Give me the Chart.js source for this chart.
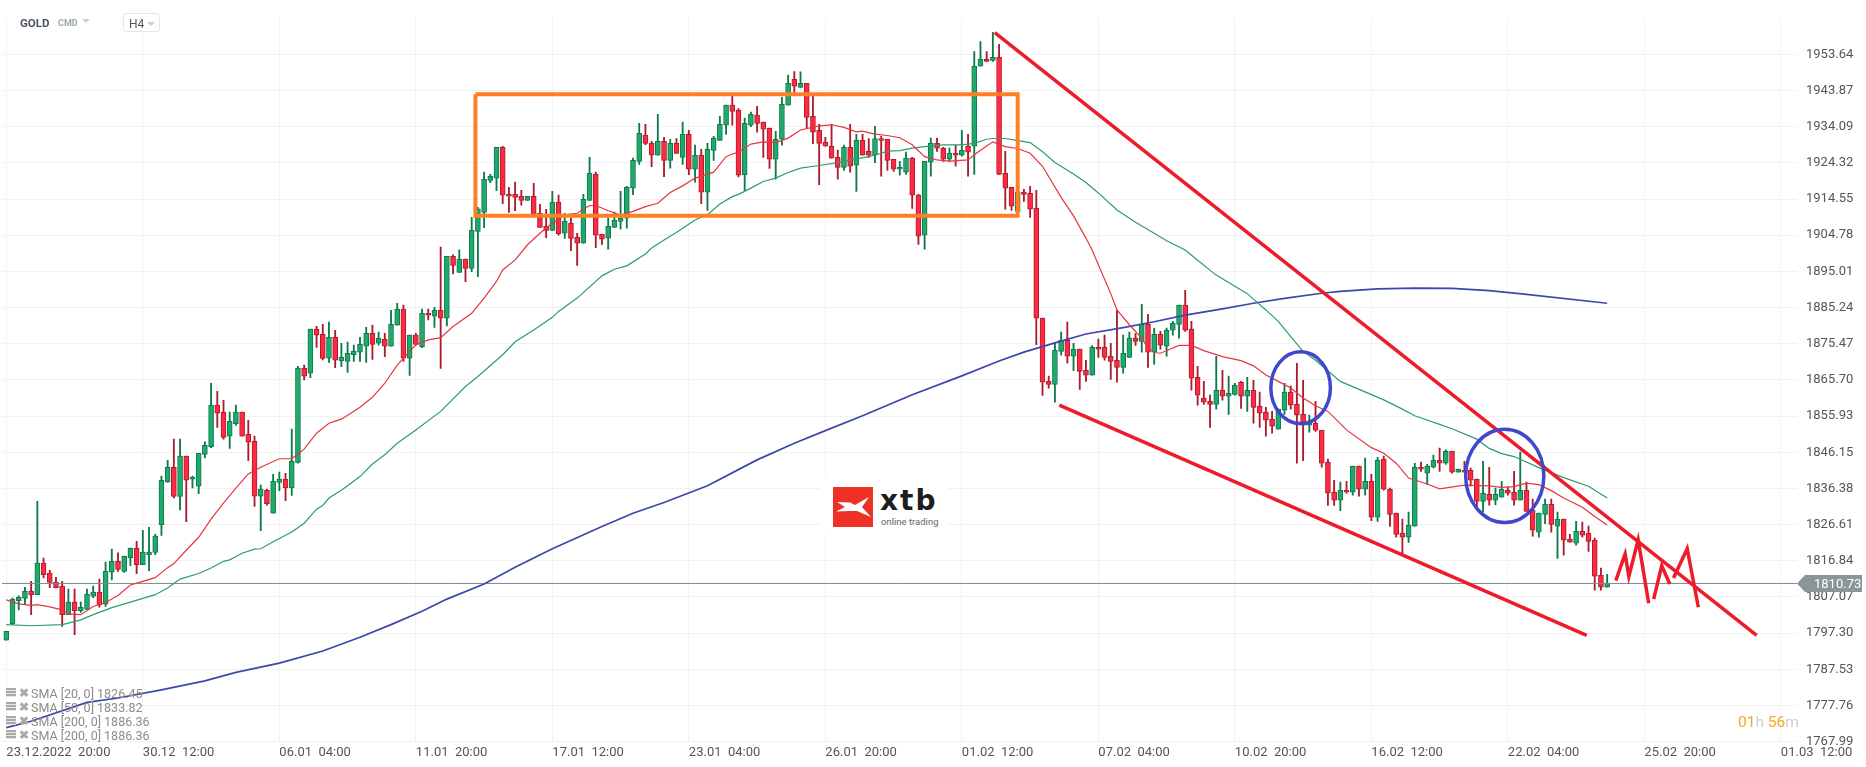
<!DOCTYPE html>
<html>
<head>
<meta charset="utf-8">
<title>GOLD H4</title>
<script src="https://cdn.jsdelivr.net/npm/chart.js@4"></script>
<style>
  html, body { margin: 0; padding: 0; background: #fff; overflow: hidden; }
  #wrap { position: relative; width: 1866px; height: 767px; font-family: Roboto, sans-serif; }
  #myChart { position: absolute; left: 0; top: 0; }
  .hud { position: absolute; white-space: nowrap; }
  .caret { position: absolute; width: 0; height: 0; border-left: 4.5px solid transparent; border-right: 4.5px solid transparent; border-top: 4px solid #cfcfcf; }
  .row { position: absolute; left: 6px; height: 14px; font-size: 12.5px; line-height: 14px; color: #8c8c8c; white-space: nowrap; }
  .row i { position: absolute; left: 0; top: 1px; width: 10px; height: 9px; background: repeating-linear-gradient(#a8a8a8 0 2px, #e8e8e8 2px 3px); }
  .row b { position: absolute; left: 13px; top: -1px; font-weight: 700; font-size: 12px; color: #ababab; }
  .row span { position: absolute; left: 25px; }
</style>
</head>
<body>
<div id="wrap">
  <canvas id="myChart" width="1866" height="767"></canvas>

  <div class="hud" style="left:20px;top:16px;font-size:11.5px;font-weight:700;line-height:14px;color:#4a5560;">GOLD</div>
  <div class="hud" style="left:58px;top:17px;font-size:9px;font-weight:700;line-height:13px;color:#9aa5ad;">CMD</div>
  <div class="caret" style="left:82px;top:19px;"></div>
  <div class="hud" style="left:123px;top:13px;width:35px;height:17px;border:1px solid #e6e6e6;border-radius:3px;background:#fff;"></div>
  <div class="hud" style="left:129px;top:17px;font-size:12px;line-height:14px;color:#555;">H4</div>
  <div class="caret" style="left:147px;top:22px;"></div>

  <div class="row" style="top:687px;"><i></i><b>✖</b><span>SMA [20, 0] 1826.45</span></div>
  <div class="row" style="top:701px;"><i></i><b>✖</b><span>SMA [50, 0] 1833.82</span></div>
  <div class="row" style="top:715px;"><i></i><b>✖</b><span>SMA [200, 0] 1886.36</span></div>
  <div class="row" style="top:729px;"><i></i><b>✖</b><span>SMA [200, 0] 1886.36</span></div>

  <div class="hud" style="left:820px;top:478px;width:128px;height:57px;background:#fff;"></div>
  <svg class="hud" style="left:833px;top:487px;" width="40" height="40" viewBox="0 0 40 40">
    <rect width="40" height="40" fill="#ee3124"/>
    <polygon fill="#fff" points="4,15 17,15.5 22,18 36,10 29,20 38,30 24,24 17,24 3,24.5 12,20"/>
  </svg>
  <div class="hud" style="left:880px;top:486px;font-family:'DejaVu Sans';font-weight:700;font-size:28px;letter-spacing:2px;line-height:30px;color:#1d1d1b;">xtb</div>
  <div class="hud" style="left:881px;top:515px;font-size:9.5px;line-height:13px;color:#666;">online trading</div>

  <div class="hud" style="left:1738px;top:713px;font-size:15.5px;line-height:18px;color:#f5a623;">01<span style="color:#cfcfcf">h</span> 56<span style="color:#cfcfcf">m</span></div>
</div>

<script>
const currentPrice = 1810.73;

const yTicks = [1953.64, 1943.87, 1934.09, 1924.32, 1914.55, 1904.78, 1895.01, 1885.24, 1875.47, 1865.70,
  1855.93, 1846.15, 1836.38, 1826.61, 1816.84, 1807.07, 1797.30, 1787.53, 1777.76, 1767.99];

const xTickCandles = [0, 22, 44, 66, 88, 110, 132, 154, 176, 198, 220, 242, 264, 286];
const xTickLabels = ['23.12.2022\u00a0\u00a020:00', '30.12\u00a0\u00a012:00', '06.01\u00a0\u00a004:00', '11.01\u00a0\u00a020:00',
  '17.01\u00a0\u00a012:00', '23.01\u00a0\u00a004:00', '26.01\u00a0\u00a020:00', '01.02\u00a0\u00a012:00', '07.02\u00a0\u00a004:00',
  '10.02\u00a0\u00a020:00', '16.02\u00a0\u00a012:00', '22.02\u00a0\u00a004:00', '25.02\u00a0\u00a020:00', '01.03\u00a0\u00a012:00'];

const opens = [
  1795.4,1799.9,1806.1,1806.7,1808.6,1807.7,1816.2,1813.5,1811.1,1810.0,
  1802.3,1805.7,1803.4,1803.7,1807.3,1808.4,1805.1,1813.8,1816.7,1814.0,
  1817.7,1820.3,1815.8,1818.5,1819.1,1826.6,1838.2,1842.1,1834.2,1845.1,
  1838.9,1837.0,1845.6,1847.7,1858.9,1857.0,1850.5,1853.9,1857.0,1851.0,
  1849.1,1834.3,1835.9,1829.7,1838.0,1838.9,1836.5,1843.4,1868.9,1867.5,
  1879.4,1878.0,1871.6,1877.2,1870.9,1870.7,1872.5,1873.2,1874.8,1878.3,
  1875.6,1876.7,1874.8,1880.5,1884.8,1871.6,1877.8,1874.7,1883.7,1882.9,
  1884.5,1882.4,1899.1,1894.7,1898.3,1895.8,1905.8,1910.9,1919.6,1920.2,
  1928.5,1915.8,1915.8,1915.3,1914.2,1915.3,1910.7,1907.2,1906.1,1913.7,
  1905.3,1908.0,1904.2,1902.6,1914.2,1921.2,1905.0,1904.0,1906.9,1908.5,
  1909.4,1917.5,1924.7,1931.8,1929.6,1926.4,1930.1,1925.0,1929.6,1925.8,
  1932.0,1922.6,1926.4,1916.4,1927.7,1930.4,1934.5,1939.9,1938.5,1921.1,
  1934.5,1937.2,1935.3,1933.7,1925.3,1930.7,1939.9,1946.9,1944.7,1945.8,
  1936.9,1933.1,1929.9,1928.8,1925.8,1923.1,1928.5,1923.7,1930.4,1927.4,
  1926.4,1930.9,1930.7,1925.3,1922.6,1921.8,1925.6,1915.6,1904.8,1924.5,
  1929.6,1928.3,1925.3,1926.9,1926.4,1928.8,1928.8,1950.4,1952.3,1952.0,
  1952.8,1921.5,1917.7,1911.2,1916.4,1916.1,1912.1,1882.4,1865.3,1864.5,
  1873.4,1876.4,1872.1,1874.0,1868.3,1867.0,1874.5,1874.5,1872.1,1871.0,
  1869.1,1871.8,1877.0,1876.1,1880.7,1873.2,1878.0,1874.8,1879.1,1880.7,
  1885.9,1879.4,1866.4,1860.8,1859.9,1859.1,1862.9,1861.3,1861.8,1865.1,
  1861.3,1862.9,1858.6,1857.0,1855.1,1852.4,1857.5,1862.4,1859.1,1856.4,
  1853.5,1854.0,1852.1,1843.5,1835.4,1833.2,1835.9,1835.4,1842.4,1836.2,
  1838.3,1828.6,1844.3,1836.2,1829.7,1824.3,1823.2,1826.2,1842.1,1840.5,
  1842.1,1844.0,1843.2,1846.4,1840.8,1841.3,1841.3,1838.9,1832.9,1834.8,
  1833.2,1834.0,1835.9,1835.4,1833.2,1835.9,1830.5,1824.6,1829.4,1832.1,
  1826.2,1828.1,1822.7,1821.6,1824.8,1824.3,1822.4,1813.0,1809.7];

const closes = [
  1797.8,1806.5,1807.0,1808.6,1807.7,1816.2,1813.1,1811.0,1809.6,1802.3,
  1805.7,1803.4,1804.3,1807.8,1808.4,1804.9,1814.0,1816.7,1814.5,1818.1,
  1820.3,1815.8,1819.2,1819.2,1823.5,1838.6,1842.1,1834.2,1845.1,1838.6,
  1839.4,1845.9,1848.0,1858.9,1856.7,1850.2,1854.5,1857.0,1850.5,1848.9,
  1834.3,1836.2,1832.3,1838.3,1838.9,1836.5,1843.7,1868.9,1866.7,1879.4,
  1877.8,1871.5,1877.2,1871.0,1871.8,1872.9,1873.4,1875.3,1878.3,1875.3,
  1876.9,1874.8,1880.7,1884.8,1871.6,1877.8,1875.3,1883.7,1883.2,1884.5,
  1882.4,1899.1,1896.6,1898.3,1895.8,1906.1,1911.9,1919.9,1920.7,1928.5,
  1915.6,1915.3,1915.0,1914.2,1915.3,1910.3,1906.9,1906.1,1913.7,1905.2,
  1908.5,1903.9,1902.6,1914.5,1921.5,1904.8,1903.7,1907.2,1908.8,1909.4,
  1917.7,1925.0,1932.3,1929.6,1926.4,1930.1,1925.0,1929.6,1926.9,1932.0,
  1922.6,1926.4,1916.4,1928.0,1931.0,1934.7,1939.9,1938.2,1921.0,1935.0,
  1937.4,1935.0,1933.4,1925.3,1930.7,1940.1,1945.8,1945.0,1945.8,1936.6,
  1932.6,1929.6,1928.8,1925.6,1923.1,1928.5,1923.4,1930.4,1926.4,1926.4,
  1930.9,1930.4,1925.0,1922.6,1923.1,1925.6,1915.6,1904.5,1924.7,1929.6,
  1928.3,1925.3,1926.9,1926.4,1927.7,1927.2,1950.4,1952.3,1951.7,1952.8,
  1921.2,1917.5,1912.6,1916.4,1915.8,1911.8,1882.4,1865.1,1864.5,1873.7,
  1876.4,1872.1,1874.0,1868.0,1867.0,1874.5,1874.0,1871.8,1870.7,1869.1,
  1872.9,1877.0,1876.1,1880.7,1873.2,1878.0,1875.1,1879.1,1881.0,1885.9,
  1879.1,1866.2,1861.6,1859.7,1859.1,1862.9,1861.3,1862.1,1864.3,1861.3,
  1862.9,1858.3,1856.7,1854.8,1853.2,1857.8,1862.4,1858.9,1856.2,1853.5,
  1854.3,1852.1,1843.2,1835.1,1833.2,1835.9,1835.4,1842.4,1836.2,1838.3,
  1828.6,1844.0,1836.2,1829.4,1824.0,1823.2,1826.5,1842.1,1841.6,1842.4,
  1844.0,1843.2,1846.4,1840.8,1841.6,1840.8,1838.6,1832.9,1835.1,1833.2,
  1834.8,1836.2,1835.1,1833.2,1835.9,1830.2,1825.1,1829.7,1832.1,1826.7,
  1828.1,1822.4,1821.9,1824.8,1823.8,1822.1,1812.7,1809.7,1810.8];

const highs = [
  1797.8,1806.8,1807.4,1809.7,1811.3,1832.9,1817.6,1814.3,1812.4,1811.3,
  1809.2,1809.2,1805.7,1809.2,1810.0,1811.9,1816.5,1820.0,1819.0,1818.1,
  1820.3,1822.1,1825.1,1825.9,1824.0,1839.7,1844.0,1849.7,1849.7,1845.1,
  1839.7,1845.9,1849.0,1864.8,1862.6,1860.2,1857.0,1858.9,1857.0,1854.8,
  1850.5,1837.3,1836.2,1840.2,1840.8,1840.5,1852.4,1869.4,1869.7,1879.4,
  1880.2,1880.7,1881.3,1879.1,1875.6,1875.9,1875.1,1877.2,1879.9,1880.5,
  1878.6,1878.3,1884.5,1886.4,1885.9,1877.8,1878.3,1884.8,1884.8,1885.3,
  1901.6,1899.1,1899.5,1900.8,1898.3,1909.6,1912.3,1921.8,1921.2,1928.5,
  1928.8,1917.7,1919.1,1916.9,1915.3,1918.8,1913.1,1911.8,1916.6,1915.6,
  1910.7,1909.4,1905.3,1915.8,1925.8,1921.8,1905.0,1909.4,1911.0,1916.6,
  1918.0,1925.6,1935.0,1934.7,1930.1,1937.4,1931.2,1930.7,1930.9,1935.3,
  1933.1,1929.1,1928.0,1929.6,1931.5,1936.9,1939.9,1942.3,1939.0,1936.4,
  1938.0,1939.6,1935.3,1933.7,1932.8,1942.0,1948.0,1949.0,1948.9,1945.8,
  1942.6,1934.7,1931.2,1934.7,1927.8,1929.1,1934.7,1932.0,1932.0,1930.9,
  1934.2,1931.5,1930.7,1925.3,1924.7,1927.2,1925.8,1915.8,1924.7,1931.0,
  1931.0,1928.5,1928.3,1929.1,1933.1,1932.0,1954.4,1957.1,1954.4,1959.6,
  1956.3,1927.4,1917.7,1916.4,1917.2,1918.0,1916.9,1882.4,1866.7,1875.6,
  1878.6,1881.3,1875.6,1874.0,1871.0,1875.0,1876.7,1877.8,1875.6,1884.5,
  1877.8,1878.6,1878.3,1886.1,1883.4,1879.7,1878.8,1879.7,1881.5,1885.9,
  1889.9,1881.5,1869.4,1865.3,1861.6,1872.1,1868.3,1866.7,1864.8,1865.3,
  1866.4,1865.6,1862.4,1858.3,1857.2,1857.8,1864.8,1864.0,1870.2,1865.6,
  1856.2,1859.9,1852.1,1844.3,1838.6,1838.1,1838.3,1842.4,1842.4,1844.6,
  1840.2,1844.8,1845.1,1836.5,1829.7,1828.1,1830.0,1843.2,1843.5,1842.9,
  1845.4,1847.3,1846.8,1846.4,1841.6,1843.7,1841.9,1838.9,1843.7,1842.1,
  1836.5,1838.3,1836.7,1841.0,1846.2,1838.1,1833.5,1829.7,1833.5,1833.5,
  1830.0,1828.1,1824.0,1827.5,1827.3,1826.2,1823.0,1814.9,1813.2];

const lows = [
  1795.4,1799.6,1803.6,1805.2,1802.3,1807.7,1812.2,1809.6,1809.5,1799.1,
  1802.3,1796.9,1802.9,1803.7,1806.9,1804.3,1804.5,1811.7,1814.0,1813.7,
  1815.5,1813.4,1815.8,1814.2,1818.5,1823.7,1838.0,1833.8,1830.6,1827.4,
  1836.5,1835.0,1844.6,1847.4,1852.9,1849.7,1847.2,1853.4,1850.5,1843.9,
  1831.5,1825.0,1831.9,1829.7,1835.8,1833.1,1834.5,1843.2,1865.7,1866.3,
  1874.5,1871.1,1870.4,1869.0,1869.3,1867.7,1870.7,1870.7,1870.4,1871.2,
  1875.1,1872.0,1874.8,1880.5,1870.7,1866.9,1875.1,1874.4,1881.9,1879.9,
  1868.8,1880.3,1894.3,1894.7,1892.2,1894.9,1893.6,1906.8,1919.0,1916.8,
  1913.3,1910.9,1911.4,1912.9,1914.2,1910.3,1906.9,1904.1,1906.1,1904.8,
  1903.9,1900.6,1896.6,1902.6,1914.2,1901.4,1902.3,1901.0,1906.9,1906.4,
  1906.7,1915.7,1923.9,1929.2,1923.3,1926.4,1920.6,1922.9,1926.9,1923.9,
  1921.1,1919.1,1913.3,1911.5,1925.0,1930.4,1932.0,1934.5,1920.5,1916.9,
  1934.1,1932.6,1925.8,1922.8,1919.9,1929.1,1939.9,1943.1,1944.7,1933.7,
  1929.5,1918.4,1928.8,1925.6,1919.9,1922.3,1921.8,1916.6,1926.4,1925.8,
  1924.4,1920.7,1922.3,1922.0,1921.0,1921.2,1912.0,1902.3,1901.0,1920.7,
  1927.4,1924.7,1924.7,1923.4,1926.1,1920.7,1921.2,1950.4,1951.7,1951.7,
  1921.2,1911.8,1911.5,1911.2,1913.9,1909.6,1875.2,1861.5,1863.5,1859.7,
  1872.4,1870.2,1868.2,1863.1,1865.3,1867.0,1871.8,1871.0,1865.8,1865.1,
  1867.5,1871.8,1875.0,1873.2,1869.1,1869.9,1874.0,1872.1,1877.8,1877.0,
  1878.8,1862.9,1858.9,1859.1,1852.9,1857.8,1860.2,1856.4,1861.6,1858.0,
  1857.2,1854.0,1852.9,1850.5,1851.3,1852.4,1856.4,1857.8,1843.2,1843.9,
  1851.6,1851.8,1842.1,1831.8,1831.8,1830.4,1835.1,1834.6,1834.3,1834.6,
  1827.7,1827.5,1835.9,1826.1,1823.2,1818.4,1821.8,1826.2,1841.0,1837.5,
  1841.9,1841.0,1842.9,1840.5,1840.8,1840.8,1837.0,1830.8,1830.0,1831.9,
  1832.0,1834.0,1834.6,1831.9,1833.2,1830.2,1823.5,1823.2,1826.9,1824.6,
  1817.5,1818.4,1821.9,1821.1,1823.2,1819.4,1808.9,1808.9,1809.7];

// moving averages, read every few candles
const sma20At = [0,2,4,5,7,9,10,12,14,16,18,20,22,24,26,27,29,31,33,35,37,39,41,44,46,48,50,52,54,57,59,61,63,65,66,68,70,72,75,77,79,80,82,84,86,88,90,92,94,95,97,99,101,103,105,107,109,111,114,116,117,118,120,122,124,126,128,131,133,135,137,138,140,142,144,146,148,150,152,155,156,158,159,161,163,165,167,170,172,174,175,176,178,179,181,183,184,185,186,188,189,191,193,196,199,201,203,205,207,209,211,213,216,220,222,224,226,229,231,235,239,241,243,245,247,249,251,254,256,258];
const sma20 = [1806.3,1805.2,1804.8,1805,1804.4,1803.6,1802.5,1802.3,1804.5,1805.6,1807.5,1810.3,1811.3,1812.3,1815,1816.1,1819.7,1823.2,1828.1,1832.4,1836.5,1840.3,1842.1,1844.4,1844.4,1847,1851.3,1854,1855.1,1858.3,1861,1864.8,1869.7,1873.4,1875.2,1876.5,1877.1,1880.1,1883.7,1887.8,1892.3,1895.4,1898.1,1902.2,1905.3,1908,1910.3,1910.7,1912.8,1912.8,1911.4,1910.2,1911.2,1912.5,1913.4,1916.3,1918.1,1920.2,1921.8,1926,1926.7,1927.2,1929.4,1930,1929.8,1931,1933.2,1934.3,1934.6,1933.9,1932.7,1932.9,1932.1,1931.7,1931.1,1929.2,1926,1925.1,1924.8,1925.1,1926.5,1928.9,1930,1928.7,1928.2,1926.9,1923.4,1915,1910,1904,1900.8,1896.8,1889,1884.6,1880.6,1877,1874.3,1873.1,1872.9,1874.3,1875,1875,1873.6,1872,1870.9,1869.5,1867,1865.3,1863.5,1860.8,1858.7,1857.2,1852.2,1847.4,1845.9,1843.2,1839.2,1837.6,1836.3,1837.3,1837.1,1836.7,1836.9,1837.8,1837.4,1835.8,1833.8,1831.3,1828.8,1826.5];

const sma50At = [0,4,9,10,12,14,17,20,22,24,26,28,31,33,35,36,38,40,41,43,46,48,50,51,52,54,57,59,61,63,66,70,74,76,80,82,85,88,89,92,96,98,100,103,104,106,108,111,113,115,117,118,120,122,124,126,128,131,134,137,139,141,142,144,146,148,151,154,156,158,159,161,163,165,167,169,172,174,176,179,182,185,187,190,192,195,197,200,203,205,207,209,211,215,222,225,227,231,233,237,239,241,243,247,251,255,258];
const sma50 = [1799.6,1799.3,1799.6,1800,1800.9,1802.3,1804.2,1805.7,1806.7,1807.7,1809.5,1811.9,1813.4,1814.9,1816.7,1817.1,1818.9,1820,1820.1,1822,1824.6,1827,1830.8,1831.8,1833.8,1835.9,1839.6,1843,1845.5,1848.6,1852.2,1857.2,1863.9,1866.6,1872.5,1876,1879.2,1882.6,1884.2,1887.8,1893.8,1895.6,1896.5,1899.7,1901.3,1903.5,1905.5,1908.9,1910.3,1913.2,1915.2,1915.8,1917.5,1919.3,1920.2,1921.7,1922.9,1923.6,1924.4,1925.4,1926,1926.9,1927.5,1927.6,1928.3,1928.7,1929.2,1929.2,1929.6,1930.7,1930.9,1930.9,1930.3,1929.8,1927.3,1924.4,1921.3,1919,1916.2,1911.6,1908.3,1905.3,1903.3,1900.8,1898,1894,1892,1889,1884.6,1881.5,1877.4,1873.4,1871,1865.3,1860.3,1857.8,1856,1853.7,1852.5,1849.7,1847.2,1845.8,1845,1842,1839.3,1837,1833.8];

const sma200At = [0,4,13,18,25,32,37,44,51,57,62,67,71,77,82,88,96,101,106,113,121,127,132,138,146,154,160,164,169,174,180,185,190,196,201,206,212,215,221,227,233,239,245,258];
const sma200 = [1771.8,1773.5,1778.6,1779.8,1782,1784.4,1786.7,1789.2,1792.5,1796.2,1799.6,1803.2,1806.5,1810.6,1815.1,1820.1,1826.1,1829.7,1832.6,1837.1,1844.1,1848.6,1852,1856,1861.7,1866.8,1870.8,1873.2,1875.7,1878.1,1879.8,1881.4,1883.2,1884.9,1886.4,1887.7,1889.1,1889.6,1890.3,1890.5,1890.4,1889.8,1888.8,1886.4];

// hand drawn analysis on top of the chart
const boxAt = [75.6, 163, 163, 75.6, 75.6];
const boxPrice = [1942.84, 1942.84, 1910.0, 1910.0, 1942.84];
const upperTrendAt = [159.3, 282.1];
const upperTrendPrice = [1959.5, 1796.7];
const lowerTrendAt = [169.7, 254.7];
const lowerTrendPrice = [1858.9, 1796.7];
const zigzagAt = [259.4, 260.6, 260.9, 261.5, 263, 264.7, 265, 265.5, 266.8, 268.1, 268.4, 268.7, 270.9, 272.7];
const zigzagPrice = [1811.5, 1817.3, 1818.7, 1812.6, 1822.5, 1805.4, null, 1806.5, 1815.5, 1810.6, null, 1812.2, 1820.1, 1804.3];
const circleAt = [208.6, 241.5];
const circlePrice = [1863.6, 1839.8];
const circleCandles = [4.8, 6.3];
const circleDollars = [9.7, 12.6];

const toXY = (xs, ys) => xs.map((x, i) => ({ x: x, y: ys[i] }));

const isUp = (i) => closes[i] >= opens[i];
const bodyColors = opens.map((o, i) => isUp(i) ? '#20a96c' : '#ff2a41');
const edgeColors = opens.map((o, i) => isUp(i) ? '#0e7a4b' : '#ab1c2e');

const lineSet = (data, color, width, order) => ({
  type: 'line',
  data: data,
  borderColor: color,
  borderWidth: width,
  pointRadius: 0,
  tension: 0,
  fill: false,
  spanGaps: false,
  borderJoinStyle: 'miter',
  order: order
});

const xMin = -0.698;
const xMax = 288.6;

const overlayPlugin = {
  id: 'overlay',
  afterDatasetsDraw(chart) {
    const { ctx, scales } = chart;
    ctx.save();
    ctx.strokeStyle = '#3f48cc';
    ctx.lineWidth = 3.5;
    for (let i = 0; i < circleAt.length; i++) {
      const cx = scales.x.getPixelForValue(circleAt[i]);
      const cy = scales.y.getPixelForValue(circlePrice[i]);
      const rx = scales.x.getPixelForValue(circleAt[i] + circleCandles[i]) - cx;
      const ry = cy - scales.y.getPixelForValue(circlePrice[i] + circleDollars[i]);
      ctx.beginPath();
      ctx.ellipse(cx, cy, rx, ry, 0, 0, Math.PI * 2);
      ctx.stroke();
    }
    ctx.restore();
  },
  afterDraw(chart) {
    // price tag on the axis
    const { ctx, scales } = chart;
    const y = scales.y.getPixelForValue(currentPrice);
    ctx.save();
    ctx.fillStyle = '#8a9597';
    ctx.beginPath();
    ctx.moveTo(1797, y);
    ctx.lineTo(1805, y - 8.5);
    ctx.lineTo(1862, y - 8.5);
    ctx.lineTo(1862, y + 8.5);
    ctx.lineTo(1805, y + 8.5);
    ctx.closePath();
    ctx.fill();
    ctx.fillStyle = '#fff';
    ctx.font = '13px Roboto';
    ctx.textBaseline = 'middle';
    ctx.fillText(currentPrice.toFixed(2), 1814, y + 1);
    ctx.restore();
  }
};

new Chart(document.getElementById('myChart').getContext('2d'), {
  type: 'bar',
  plugins: [overlayPlugin],
  data: {
    datasets: [
      {
        data: lows.map((l, i) => ({ x: i, y: [l, highs[i]] })),
        backgroundColor: edgeColors,
        barThickness: 1.2,
        grouped: false,
        order: 12
      },
      {
        data: opens.map((o, i) => ({ x: i, y: [o, closes[i]] })),
        backgroundColor: bodyColors,
        borderColor: edgeColors,
        borderWidth: 1,
        borderSkipped: false,
        barThickness: 5,
        grouped: false,
        order: 11
      },
      lineSet(toXY([xMin, xMax], [currentPrice, currentPrice]), '#7b8b8f', 1, 10),
      lineSet(toXY(sma200At, sma200), '#3d47ab', 1.7, 9),
      lineSet(toXY(sma50At, sma50), '#2f9b72', 1.2, 8),
      lineSet(toXY(sma20At, sma20), '#e8343f', 1.2, 7),
      lineSet(toXY(boxAt, boxPrice), '#ff7f27', 4, 6),
      lineSet(toXY(upperTrendAt, upperTrendPrice), '#ee1c2a', 3.5, 5),
      lineSet(toXY(lowerTrendAt, lowerTrendPrice), '#ee1c2a', 3.5, 4),
      lineSet(toXY(zigzagAt, zigzagPrice), '#ee1c2a', 3.5, 3)
    ]
  },
  options: {
    responsive: false,
    animation: false,
    events: [],
    layout: { autoPadding: false, padding: { left: 2, top: 18, right: 0, bottom: 0 } },
    plugins: { legend: { display: false }, tooltip: { enabled: false } },
    scales: {
      x: {
        type: 'linear',
        offset: false,
        min: xMin,
        max: xMax,
        afterFit(scale) { scale.height = 25.3; },
        afterBuildTicks(scale) { scale.ticks = xTickCandles.map((v) => ({ value: v })); },
        border: { display: false },
        grid: { offset: false, color: '#f2f2f2', lineWidth: 1, drawTicks: false },
        ticks: {
          autoSkip: false,
          maxRotation: 0,
          minRotation: 0,
          align: 'start',
          padding: 3,
          color: '#555',
          font: { family: 'Roboto', size: 13 },
          callback(value) { return xTickLabels[xTickCandles.indexOf(value)]; }
        }
      },
      y: {
        type: 'linear',
        position: 'right',
        min: 1767.99,
        max: 1963.44,
        afterFit(scale) { scale.width = 69; },
        afterBuildTicks(scale) { scale.ticks = yTicks.map((v) => ({ value: v })); },
        border: { display: false },
        grid: { color: '#f2f2f2', lineWidth: 1, drawTicks: false },
        ticks: {
          autoSkip: false,
          padding: 9,
          color: '#555',
          font: { family: 'Roboto', size: 13 },
          callback(value) { return value.toFixed(2); }
        }
      }
    }
  }
});
</script>
</body>
</html>
